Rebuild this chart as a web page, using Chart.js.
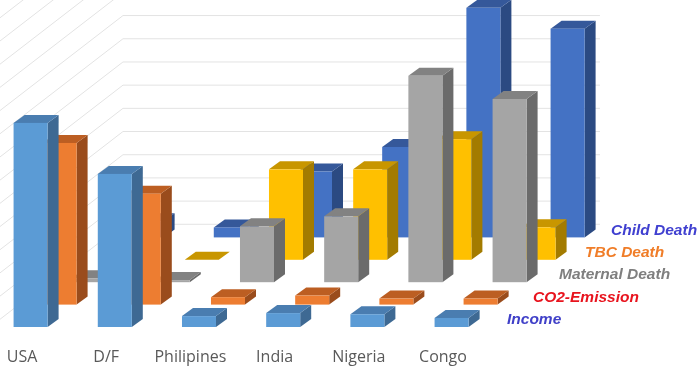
<!DOCTYPE html>
<html>
<head>
<meta charset="utf-8">
<script src="https://cdn.jsdelivr.net/npm/chart.js@4.4.1/dist/chart.umd.min.js"></script>
<style>
  html, body { margin: 0; padding: 0; background: #fff; }
  #wrap { width: 700px; height: 369px; }
</style>
</head>
<body>
<div id="wrap"><canvas id="myChart" width="700" height="369"></canvas></div>
<script>
// data (units = back wall grid steps)
const categories = ['USA', 'D/F', 'Philipines', 'India', 'Nigeria', 'Congo']
const seriesNames = ['Income', 'CO2-Emission', 'Maternal Death', 'TBC Death', 'Child Death']
const income = [8.8, 6.6, 0.47, 0.6, 0.55, 0.39]
const co2Emission = [6.97, 4.78, 0.32, 0.39, 0.26, 0.26]
const maternalDeath = [0.17, 0.09, 2.41, 2.84, 8.9, 7.9]
const tbcDeath = [1.2, 0, 3.9, 3.9, 5.2, 1.4]
const childDeath = [0.7, 0.43, 2.84, 3.9, 9.9, 9.0]

// colours per series: front / top / side, and the colour of the row label
const faces = [
    { front: '#5B9BD5', top: '#4A7DB0', side: '#3E6993', label: '#4040C8' },
    { front: '#ED7D31', top: '#BC5E22', side: '#9A4C1C', label: '#E8141E' },
    { front: '#A5A5A5', top: '#828282', side: '#6B6B6B', label: '#7F7F7F' },
    { front: '#FFC000', top: '#C89600', side: '#A37B00', label: '#F07D28' },
    { front: '#4472C4', top: '#35589A', side: '#2B4A82', label: '#4040D0' },
]

// oblique projection
const rowDx = 29, rowDy = 22.4      // shift from one series row to the next
const barDx = 11, barDy = 8         // depth of one bar
const barFrac = 0.404               // bar width / category spacing
const barShift = -0.1               // front face left edge, in category spacings
const wallDepth = 4.585             // back wall, in rows
const gridColor = '#E3E3E3'

const allSeries = [income, co2Emission, maternalDeath, tbcDeath, childDeath]

function poly(ctx, pts, color) {
    ctx.beginPath()
    ctx.moveTo(pts[0][0], pts[0][1])
    for (let i = 1; i < pts.length; i++) ctx.lineTo(pts[i][0], pts[i][1])
    ctx.closePath()
    ctx.fillStyle = color
    ctx.fill()
}

const bars3d = {
    id: 'bars3d',
    beforeDatasetsDraw(chart) {
        const ctx = chart.ctx
        const x = chart.scales.x, y = chart.scales.y
        const step = x.getPixelForValue(1) - x.getPixelForValue(0)
        const wallL = x.getPixelForValue(0) - 0.38 * step
        const wallR = x.getPixelForValue(categories.length - 1) + 0.285 * step
        const bx = wallDepth * rowDx, by = wallDepth * rowDy
        ctx.save()
        ctx.strokeStyle = gridColor
        ctx.lineWidth = 1
        for (let v = 0; v <= 16; v++) {
            const py = y.getPixelForValue(v)
            ctx.beginPath()
            ctx.moveTo(wallL, py)
            ctx.lineTo(wallL + bx, py - by)
            ctx.lineTo(wallR + bx, py - by)
            ctx.stroke()
        }
        ctx.restore()
    },
    afterDatasetsDraw(chart) {
        const ctx = chart.ctx
        const x = chart.scales.x, y = chart.scales.y
        const step = x.getPixelForValue(1) - x.getPixelForValue(0)
        const w = barFrac * step
        const base0 = y.getPixelForValue(0)
        ctx.save()
        for (let r = allSeries.length - 1; r >= 0; r--) {
            const c = faces[r]
            allSeries[r].forEach((v, i) => {
                const x0 = x.getPixelForValue(i) + barShift * step + r * rowDx
                const yb = base0 - r * rowDy
                const yt = y.getPixelForValue(v) - r * rowDy
                poly(ctx, [[x0 + w, yt], [x0 + w + barDx, yt - barDy], [x0 + w + barDx, yb - barDy], [x0 + w, yb]], c.side)
                poly(ctx, [[x0, yt], [x0 + w, yt], [x0 + w + barDx, yt - barDy], [x0 + barDx, yt - barDy]], c.top)
                ctx.fillStyle = c.front
                ctx.fillRect(x0, yt, w, yb - yt)
            })
        }
        // category names under the front row
        ctx.font = '16px "Open Sans", sans-serif'
        ctx.fillStyle = '#595959'
        ctx.textAlign = 'center'
        ctx.textBaseline = 'middle'
        categories.forEach((name, i) => {
            ctx.fillText(name, x.getPixelForValue(i), base0 + 30)
        })
        // series names at the end of each row
        const wallR = x.getPixelForValue(categories.length - 1) + 0.285 * step
        ctx.font = 'italic bold 15.5px "Liberation Sans", Arial, sans-serif'
        ctx.textAlign = 'left'
        seriesNames.forEach((name, r) => {
            ctx.fillStyle = faces[r].label
            ctx.fillText(name, wallR + 40 + r * 26, base0 - r * rowDy - 7)
        })
        ctx.restore()
    }
}

const ctx1 = document.getElementById('myChart')

new Chart(ctx1, {
    type: 'bar',
    data: {
        labels: categories,
        datasets: allSeries.map((d, r) => ({
            label: seriesNames[r],
            data: d,
            grouped: false,
            backgroundColor: 'rgba(0,0,0,0)',
            borderWidth: 0,
        }))
    },
    options: {
        responsive: false,
        animation: false,
        layout: {
            padding: { left: 22, right: 257, top: 0, bottom: 42 }
        },
        scales: {
            x: {
                display: false,
                offset: false,
            },
            y: {
                display: false,
                min: 0,
                max: 14.1,
            },
        },
        plugins: {
            legend: { display: false },
            tooltip: { enabled: false },
        },
    },
    plugins: [bars3d],
})
</script>
</body>
</html>
